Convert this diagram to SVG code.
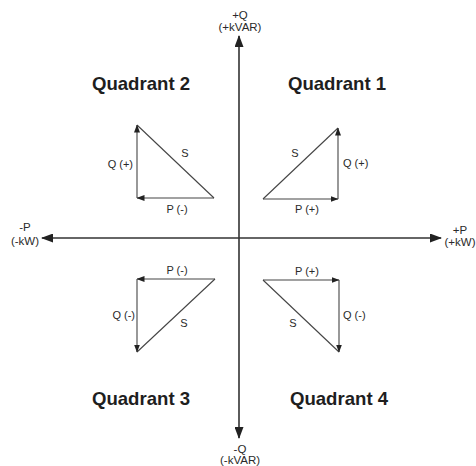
<svg xmlns="http://www.w3.org/2000/svg" width="476" height="466" viewBox="0 0 476 466">
<style>
text{font-family:"Liberation Sans",Arial,sans-serif;fill:#2a2a2a}
.t{font-size:18.6px;font-weight:bold;fill:#1e1e1e;text-anchor:middle}
.a{font-size:11.5px;text-anchor:middle}
.l{font-size:11px}
.m{text-anchor:middle}.e{text-anchor:end}
.ax{stroke:#333;stroke-width:1.6;fill:none}
.tr{stroke:#444;stroke-width:1.1;fill:none}
</style>
<defs>
<marker id="ah" markerUnits="userSpaceOnUse" markerWidth="12" markerHeight="9" refX="11" refY="4.5" orient="auto"><path d="M0,0 L12,4.5 L0,9 z" fill="#222"/></marker>
<marker id="sh" markerUnits="userSpaceOnUse" markerWidth="8" markerHeight="6" refX="7.5" refY="3" orient="auto"><path d="M0,0 L8,3 L0,6 z" fill="#222"/></marker>
</defs>
<g id="connectors">
<line class="ax" x1="239" y1="238" x2="239" y2="36" marker-end="url(#ah)"/>
<line class="ax" x1="239" y1="238" x2="239" y2="438" marker-end="url(#ah)"/>
<line class="ax" x1="239" y1="238" x2="42" y2="238" marker-end="url(#ah)"/>
<line class="ax" x1="239" y1="238" x2="441" y2="238" marker-end="url(#ah)"/>
</g>
<g id="axis-labels">
<text class="a" x="240" y="19">+Q</text><text class="a" x="240" y="31">(+kVAR)</text>
<text class="a" x="25" y="231">-P</text><text class="a" x="25" y="245">(-kW)</text>
<text class="a" x="460" y="234">+P</text><text class="a" x="460" y="246">(+kW)</text>
<text class="a" x="240" y="453">-Q</text><text class="a" x="240" y="464">(-kVAR)</text>
</g>
<g id="quadrant1">
<text class="t" x="337" y="90">Quadrant 1</text>
<line class="tr" x1="263" y1="199" x2="338" y2="128"/>
<line class="tr" x1="263" y1="199" x2="338" y2="199" marker-end="url(#sh)"/>
<line class="tr" x1="338" y1="199" x2="338" y2="128" marker-end="url(#sh)"/>
<text class="l m" x="295" y="157">S</text>
<text class="l" x="343" y="167">Q (+)</text>
<text class="l m" x="307" y="213">P (+)</text>
</g>
<g id="quadrant2">
<text class="t" x="141" y="90">Quadrant 2</text>
<line class="tr" x1="214" y1="198" x2="137" y2="125"/>
<line class="tr" x1="214" y1="198" x2="137" y2="198" marker-end="url(#sh)"/>
<line class="tr" x1="137" y1="198" x2="137" y2="125" marker-end="url(#sh)"/>
<text class="l m" x="185" y="157">S</text>
<text class="l e" x="133" y="168">Q (+)</text>
<text class="l m" x="177" y="213">P (-)</text>
</g>
<g id="quadrant3">
<text class="t" x="141" y="405">Quadrant 3</text>
<line class="tr" x1="215" y1="279" x2="137" y2="352"/>
<line class="tr" x1="215" y1="279" x2="137" y2="279" marker-end="url(#sh)"/>
<line class="tr" x1="137" y1="279" x2="137" y2="352" marker-end="url(#sh)"/>
<text class="l m" x="177" y="274">P (-)</text>
<text class="l e" x="135" y="319">Q (-)</text>
<text class="l m" x="184" y="327">S</text>
</g>
<g id="quadrant4">
<text class="t" x="339" y="405">Quadrant 4</text>
<line class="tr" x1="263" y1="280" x2="339" y2="352"/>
<line class="tr" x1="263" y1="280" x2="339" y2="280" marker-end="url(#sh)"/>
<line class="tr" x1="339" y1="280" x2="339" y2="352" marker-end="url(#sh)"/>
<text class="l m" x="307" y="275">P (+)</text>
<text class="l" x="343" y="319">Q (-)</text>
<text class="l m" x="293" y="327">S</text>
</g>
</svg>
